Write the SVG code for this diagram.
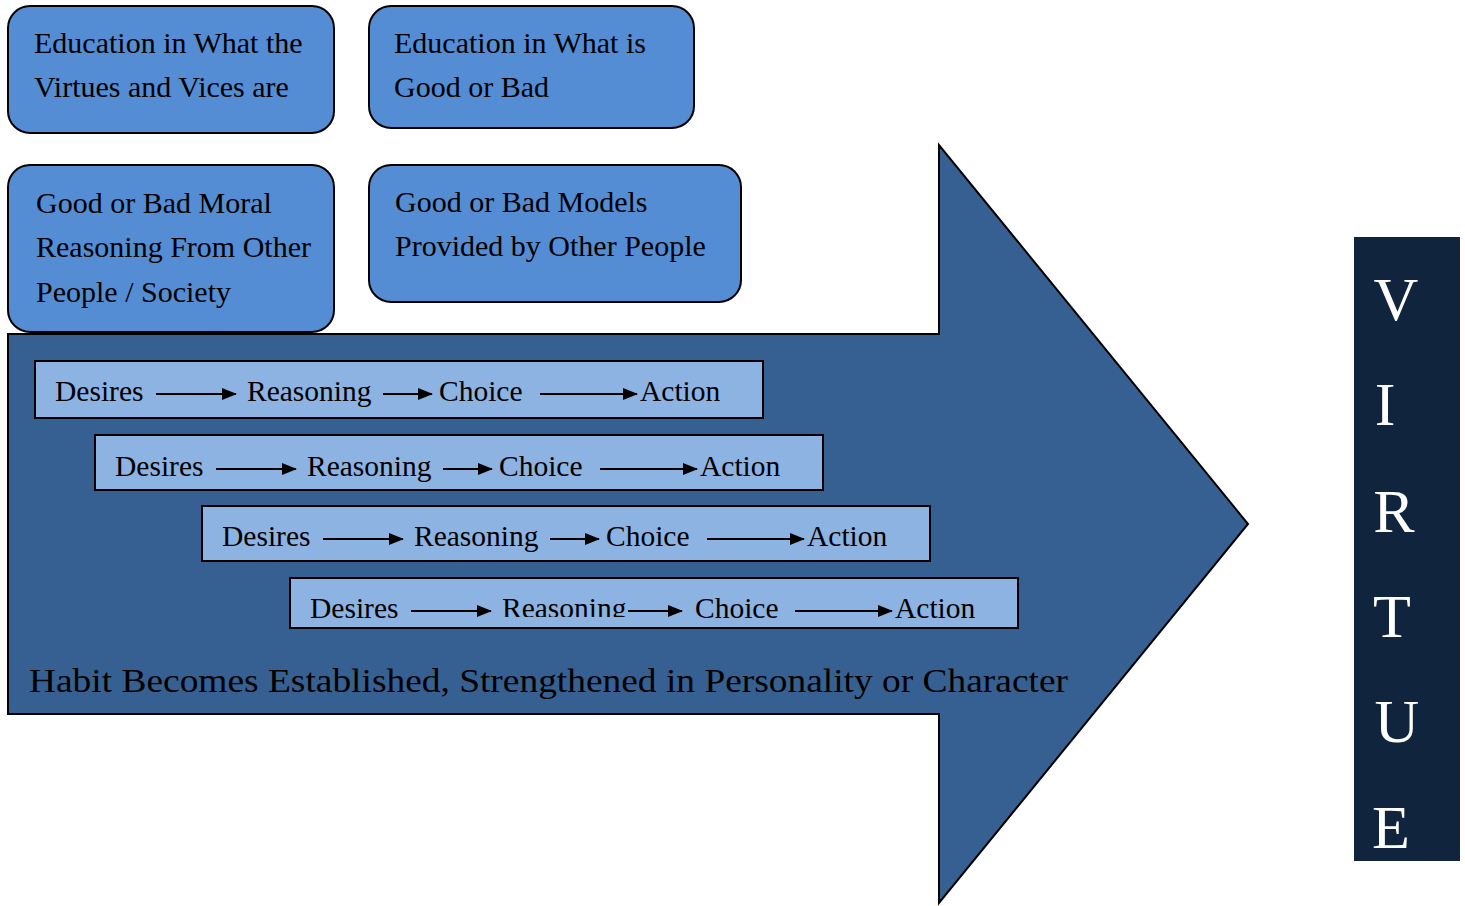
<svg xmlns="http://www.w3.org/2000/svg" width="1465" height="906" viewBox="0 0 1465 906">
<style>
.box{fill:#548dd4;stroke:#000;stroke-width:2}
.row{fill:#8db3e2;stroke:#000;stroke-width:2}
.t{font-family:"Liberation Serif","Times New Roman",serif;font-size:30px;fill:#000}
.rt{font-family:"Liberation Serif","Times New Roman",serif;font-size:29.5px;fill:#000}
.big{font-family:"Liberation Serif","Times New Roman",serif;font-size:34px;fill:#000}
.v{font-family:"Liberation Serif","Times New Roman",serif;font-size:62px;fill:#fff;text-anchor:middle}
.ar{stroke:#000;stroke-width:2;fill:none;marker-end:url(#ah)}
</style>
<defs>
<marker id="ah" markerWidth="15" markerHeight="12" refX="14" refY="6" orient="auto" markerUnits="userSpaceOnUse">
<path d="M0,0 L15,6 L0,12 Z" fill="#000"/>
</marker>
<clipPath id="clip4"><rect x="290" y="578" width="728" height="39"/></clipPath>
</defs>
<rect width="1465" height="906" fill="#fff"/>

<g id="big-arrow">
<polygon points="8,334 939,334 939,145 1248,524 939,903 939,714 8,714" fill="#366091" stroke="#000" stroke-width="2"/>
</g>

<g id="box-virtues">
<rect class="box" x="8" y="6" width="326" height="127" rx="22"/>
<text class="t" x="34" y="53">Education in What the</text>
<text class="t" x="34" y="97">Virtues and Vices are</text>
</g>
<g id="box-goodbad">
<rect class="box" x="369" y="6" width="325" height="122" rx="22"/>
<text class="t" x="394" y="53">Education in What is</text>
<text class="t" x="394" y="97">Good or Bad</text>
</g>
<g id="box-reasoning">
<rect class="box" x="8" y="165" width="326" height="167" rx="22"/>
<text class="t" x="36" y="213">Good or Bad Moral</text>
<text class="t" x="36" y="257">Reasoning From Other</text>
<text class="t" x="36" y="302">People / Society</text>
</g>
<g id="box-models">
<rect class="box" x="369" y="165" width="372" height="137" rx="22"/>
<text class="t" x="395" y="212">Good or Bad Models</text>
<text class="t" x="395" y="256">Provided by Other People</text>
</g>

<g id="row1">
<rect class="row" x="35" y="361" width="728" height="57"/>
<text class="rt" x="55" y="401">Desires</text>
<text class="rt" x="247" y="401">Reasoning</text>
<text class="rt" x="439" y="401">Choice</text>
<text class="rt" x="640" y="401">Action</text>
</g>
<g id="row2">
<rect class="row" x="95" y="435" width="728" height="55"/>
<text class="rt" x="115" y="476">Desires</text>
<text class="rt" x="307" y="476">Reasoning</text>
<text class="rt" x="499" y="476">Choice</text>
<text class="rt" x="700" y="476">Action</text>
</g>
<g id="row3">
<rect class="row" x="202" y="506" width="728" height="55"/>
<text class="rt" x="222" y="546">Desires</text>
<text class="rt" x="414" y="546">Reasoning</text>
<text class="rt" x="606" y="546">Choice</text>
<text class="rt" x="807" y="546">Action</text>
</g>
<g id="row4">
<rect class="row" x="290" y="578" width="728" height="50"/>
<text class="rt" x="310" y="618">Desires</text>
<text class="rt" x="502" y="618" clip-path="url(#clip4)">Reasoning</text>
<text class="rt" x="695" y="618">Choice</text>
<text class="rt" x="895" y="618">Action</text>
</g>

<g id="connectors">
<line class="ar" x1="156" y1="394" x2="236" y2="394"/>
<line class="ar" x1="383" y1="394" x2="432" y2="394"/>
<line class="ar" x1="540" y1="394" x2="637" y2="394"/>
<line class="ar" x1="216" y1="469" x2="296" y2="469"/>
<line class="ar" x1="443" y1="469" x2="492" y2="469"/>
<line class="ar" x1="600" y1="469" x2="697" y2="469"/>
<line class="ar" x1="323" y1="539" x2="403" y2="539"/>
<line class="ar" x1="550" y1="539" x2="599" y2="539"/>
<line class="ar" x1="707" y1="539" x2="804" y2="539"/>
<line class="ar" x1="411" y1="611" x2="491" y2="611"/>
<line class="ar" x1="628" y1="611" x2="682" y2="611"/>
<line class="ar" x1="795" y1="611" x2="892" y2="611"/>
</g>

<g id="habit-label">
<text class="big" x="29" y="692" textLength="1039" lengthAdjust="spacingAndGlyphs">Habit Becomes Established, Strengthened in Personality or Character</text>
</g>

<g id="virtue">
<rect x="1354" y="237" width="106" height="624" fill="#10243e"/>
<text class="v" x="1396" y="320">V</text>
<text class="v" x="1385" y="425">I</text>
<text class="v" x="1394" y="532">R</text>
<text class="v" x="1392" y="637">T</text>
<text class="v" x="1397" y="742">U</text>
<text class="v" x="1391" y="848">E</text>
</g>
</svg>
